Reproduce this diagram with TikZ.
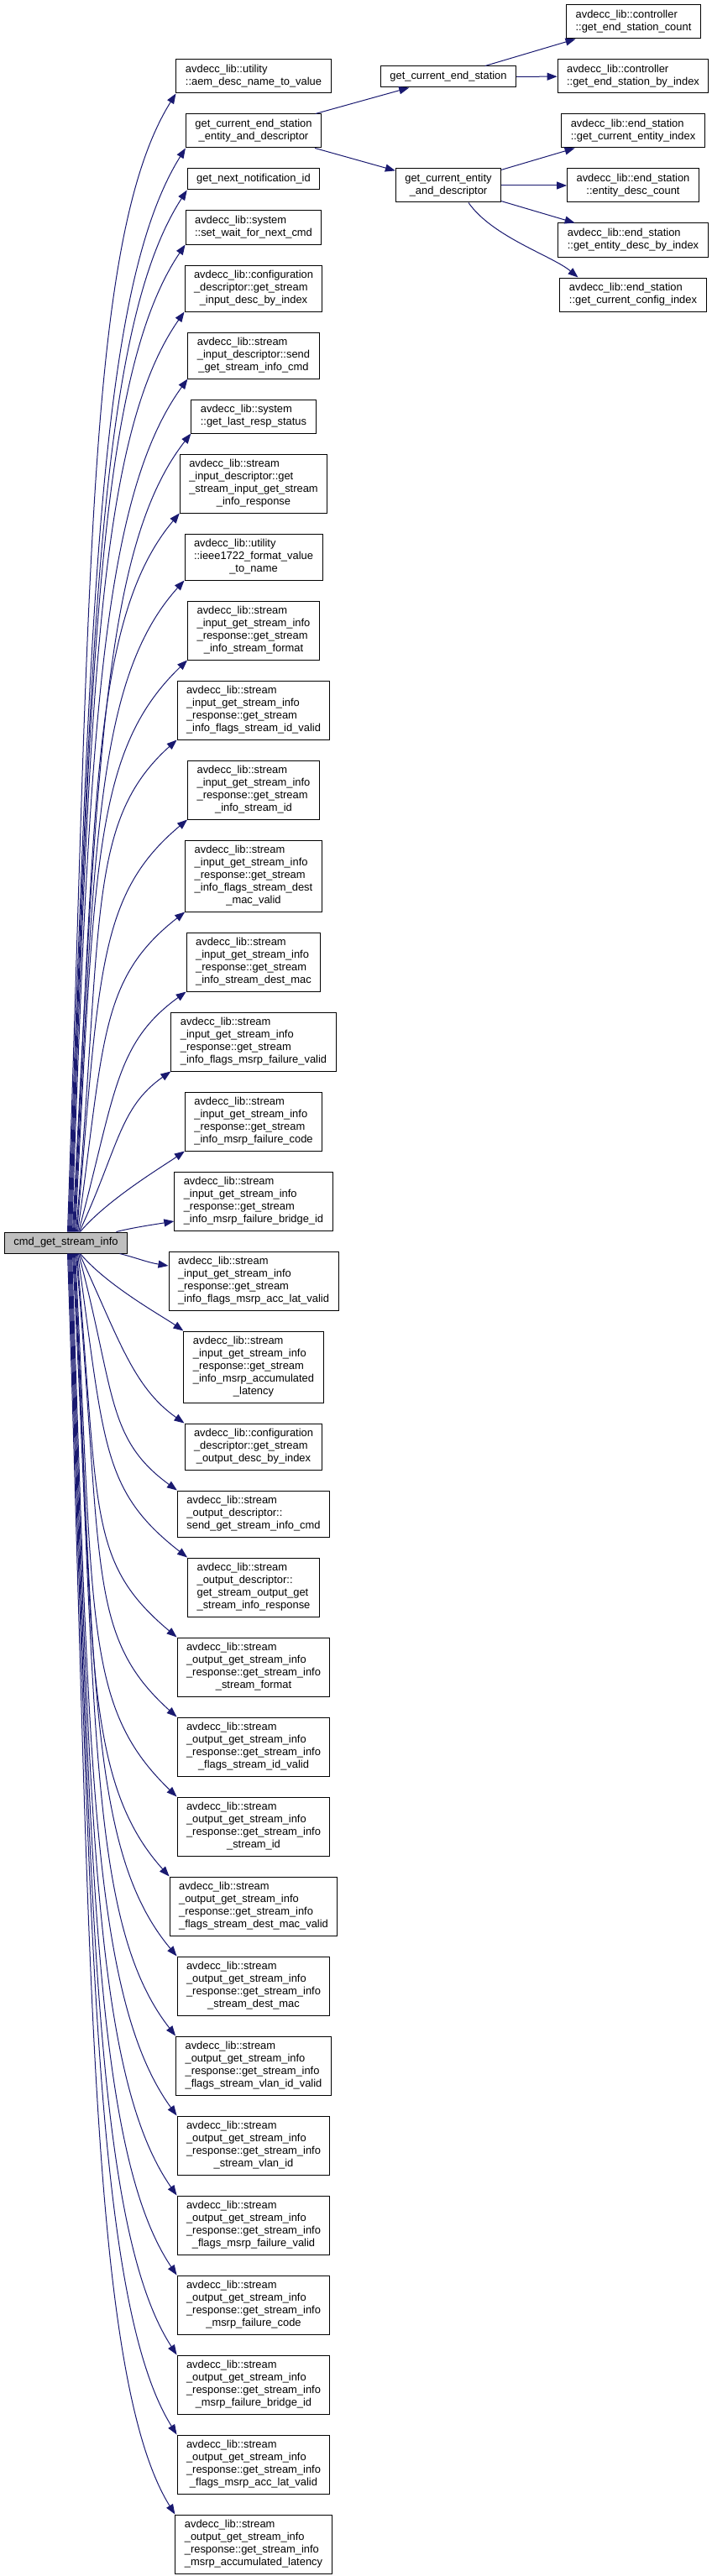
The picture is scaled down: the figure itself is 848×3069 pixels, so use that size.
\documentclass[tikz,border=0pt]{standalone}
\usepackage{fontspec}
\setmainfont{Liberation Sans}
\usetikzlibrary{calc,arrows.meta}

\definecolor{callblue}{HTML}{191970}
\definecolor{rootgray}{HTML}{BFBFBF}

% label: lines left-aligned, the last one centred
\newcommand{\lbl}[1]{\begin{tabular}{@{}l@{}}#1\end{tabular}}
\newcommand{\lastln}[1]{\multicolumn{1}{@{}c@{}}{#1}}

\tikzset{
  fn/.style={draw=black, fill=white, line width=1pt, inner xsep=11pt, inner ysep=5pt,
    font=\fontsize{12.9}{15}\selectfont},
  root/.style={fn, fill=rootgray},
  call/.style={draw=callblue, line width=1pt, -{Triangle[length=12pt,width=9pt]}, callblue}
}

\begin{document}
\begin{tikzpicture}[x=1pt, y=1pt]
  \useasboundingbox (0,0) rectangle (848,-3069);

  % caller
  \node[root] (cmd) at (78.5,-1480.5) {\lbl{cmd\_get\_stream\_info}};

  % callees
  \node[fn] (c1) at (302,-91) {\lbl{avdecc\_lib::utility\\\lastln{::aem\_desc\_name\_to\_value}}};
  \node[fn] (c2) at (302,-156) {\lbl{get\_current\_end\_station\\\lastln{\_entity\_and\_descriptor}}};
  \node[fn] (c3) at (302,-213.5) {\lbl{get\_next\_notification\_id}};
  \node[fn] (c4) at (302,-271) {\lbl{avdecc\_lib::system\\\lastln{::set\_wait\_for\_next\_cmd}}};
  \node[fn] (c5) at (302,-343.5) {\lbl{avdecc\_lib::configuration\\\_descriptor::get\_stream\\\lastln{\_input\_desc\_by\_index}}};
  \node[fn] (c6) at (302,-423.5) {\lbl{avdecc\_lib::stream\\\_input\_descriptor::send\\\lastln{\_get\_stream\_info\_cmd}}};
  \node[fn] (c7) at (302,-496) {\lbl{avdecc\_lib::system\\\lastln{::get\_last\_resp\_status}}};
  \node[fn] (c8) at (302,-576) {\lbl{avdecc\_lib::stream\\\_input\_descriptor::get\\\_stream\_input\_get\_stream\\\lastln{\_info\_response}}};
  \node[fn] (c9) at (302,-663.5) {\lbl{avdecc\_lib::utility\\::ieee1722\_format\_value\\\lastln{\_to\_name}}};
  \node[fn] (c10) at (302,-751) {\lbl{avdecc\_lib::stream\\\_input\_get\_stream\_info\\\_response::get\_stream\\\lastln{\_info\_stream\_format}}};
  \node[fn] (c11) at (302,-846) {\lbl{avdecc\_lib::stream\\\_input\_get\_stream\_info\\\_response::get\_stream\\\lastln{\_info\_flags\_stream\_id\_valid}}};
  \node[fn] (c12) at (302,-941) {\lbl{avdecc\_lib::stream\\\_input\_get\_stream\_info\\\_response::get\_stream\\\lastln{\_info\_stream\_id}}};
  \node[fn] (c13) at (302,-1043.5) {\lbl{avdecc\_lib::stream\\\_input\_get\_stream\_info\\\_response::get\_stream\\\_info\_flags\_stream\_dest\\\lastln{\_mac\_valid}}};
  \node[fn] (c14) at (302,-1146) {\lbl{avdecc\_lib::stream\\\_input\_get\_stream\_info\\\_response::get\_stream\\\lastln{\_info\_stream\_dest\_mac}}};
  \node[fn] (c15) at (302,-1241) {\lbl{avdecc\_lib::stream\\\_input\_get\_stream\_info\\\_response::get\_stream\\\lastln{\_info\_flags\_msrp\_failure\_valid}}};
  \node[fn] (c16) at (302,-1336) {\lbl{avdecc\_lib::stream\\\_input\_get\_stream\_info\\\_response::get\_stream\\\lastln{\_info\_msrp\_failure\_code}}};
  \node[fn] (c17) at (302,-1431) {\lbl{avdecc\_lib::stream\\\_input\_get\_stream\_info\\\_response::get\_stream\\\lastln{\_info\_msrp\_failure\_bridge\_id}}};
  \node[fn] (c18) at (302,-1526) {\lbl{avdecc\_lib::stream\\\_input\_get\_stream\_info\\\_response::get\_stream\\\lastln{\_info\_flags\_msrp\_acc\_lat\_valid}}};
  \node[fn] (c19) at (302,-1628.5) {\lbl{avdecc\_lib::stream\\\_input\_get\_stream\_info\\\_response::get\_stream\\\_info\_msrp\_accumulated\\\lastln{\_latency}}};
  \node[fn] (c20) at (302,-1723.5) {\lbl{avdecc\_lib::configuration\\\_descriptor::get\_stream\\\lastln{\_output\_desc\_by\_index}}};
  \node[fn] (c21) at (302,-1803.5) {\lbl{avdecc\_lib::stream\\\_output\_descriptor::\\\lastln{send\_get\_stream\_info\_cmd}}};
  \node[fn] (c22) at (302,-1891) {\lbl{avdecc\_lib::stream\\\_output\_descriptor::\\get\_stream\_output\_get\\\lastln{\_stream\_info\_response}}};
  \node[fn] (c23) at (302,-1986) {\lbl{avdecc\_lib::stream\\\_output\_get\_stream\_info\\\_response::get\_stream\_info\\\lastln{\_stream\_format}}};
  \node[fn] (c24) at (302,-2081) {\lbl{avdecc\_lib::stream\\\_output\_get\_stream\_info\\\_response::get\_stream\_info\\\lastln{\_flags\_stream\_id\_valid}}};
  \node[fn] (c25) at (302,-2176) {\lbl{avdecc\_lib::stream\\\_output\_get\_stream\_info\\\_response::get\_stream\_info\\\lastln{\_stream\_id}}};
  \node[fn] (c26) at (302,-2271) {\lbl{avdecc\_lib::stream\\\_output\_get\_stream\_info\\\_response::get\_stream\_info\\\lastln{\_flags\_stream\_dest\_mac\_valid}}};
  \node[fn] (c27) at (302,-2366) {\lbl{avdecc\_lib::stream\\\_output\_get\_stream\_info\\\_response::get\_stream\_info\\\lastln{\_stream\_dest\_mac}}};
  \node[fn] (c28) at (302,-2461) {\lbl{avdecc\_lib::stream\\\_output\_get\_stream\_info\\\_response::get\_stream\_info\\\lastln{\_flags\_stream\_vlan\_id\_valid}}};
  \node[fn] (c29) at (302,-2556) {\lbl{avdecc\_lib::stream\\\_output\_get\_stream\_info\\\_response::get\_stream\_info\\\lastln{\_stream\_vlan\_id}}};
  \node[fn] (c30) at (302,-2651) {\lbl{avdecc\_lib::stream\\\_output\_get\_stream\_info\\\_response::get\_stream\_info\\\lastln{\_flags\_msrp\_failure\_valid}}};
  \node[fn] (c31) at (302,-2746) {\lbl{avdecc\_lib::stream\\\_output\_get\_stream\_info\\\_response::get\_stream\_info\\\lastln{\_msrp\_failure\_code}}};
  \node[fn] (c32) at (302,-2841) {\lbl{avdecc\_lib::stream\\\_output\_get\_stream\_info\\\_response::get\_stream\_info\\\lastln{\_msrp\_failure\_bridge\_id}}};
  \node[fn] (c33) at (302,-2936) {\lbl{avdecc\_lib::stream\\\_output\_get\_stream\_info\\\_response::get\_stream\_info\\\lastln{\_flags\_msrp\_acc\_lat\_valid}}};
  \node[fn] (c34) at (302,-3031) {\lbl{avdecc\_lib::stream\\\_output\_get\_stream\_info\\\_response::get\_stream\_info\\\lastln{\_msrp\_accumulated\_latency}}};

  % second and third level
  \node[fn] (ces) at (534,-91.5) {\lbl{get\_current\_end\_station}};
  \node[fn] (ced) at (534,-221) {\lbl{get\_current\_entity\\\lastln{\_and\_descriptor}}};
  \node[fn] (escount) at (754.5,-26) {\lbl{avdecc\_lib::controller\\\lastln{::get\_end\_station\_count}}};
  \node[fn] (esbyidx) at (754,-91) {\lbl{avdecc\_lib::controller\\\lastln{::get\_end\_station\_by\_index}}};
  \node[fn] (entidx) at (754,-156) {\lbl{avdecc\_lib::end\_station\\\lastln{::get\_current\_entity\_index}}};
  \node[fn] (desccount) at (754,-221) {\lbl{avdecc\_lib::end\_station\\\lastln{::entity\_desc\_count}}};
  \node[fn] (descbyidx) at (754,-286) {\lbl{avdecc\_lib::end\_station\\\lastln{::get\_entity\_desc\_by\_index}}};
  \node[fn] (cfgidx) at (754,-351) {\lbl{avdecc\_lib::end\_station\\\lastln{::get\_current\_config\_index}}};

  % calls going up
  \foreach \tgt/\sx/\oa/\od/\ia/\id in {c1/2/88/780/238/200, c2/3/88/745/238/195,
      c3/4/88/715/237/190, c4/5/88/680/236/185, c5/6/88/635/235/180,
      c6/7/88/590/234/175, c7/8/87/555/232/170, c8/9/87/500/230/165,
      c9/10/87/455/228/160, c10/11/87/440/224/155, c11/12/85/375/222/145,
      c12/13/85/310/220/140, c13/14/82/230/218/130, c14/15/75/170/216/105,
      c15/16/65/110/215/75, c16/17/50/50/215/30}
    \draw[call] ($(cmd.north)+(\sx,0)$) .. controls +(\oa:\od) and ($(\tgt.south west)+(\ia:\id)$) .. (\tgt.south west);
  \draw[call] ($(cmd.north)+(60,0)$) .. controls +(20,5) and +(-25,-4) .. ($(c17.west)+(0,-24)$);

  % calls going down
  \draw[call] ($(cmd.south)+(64,0)$) .. controls +(20,-5) and +(-25,4) .. ($(c18.west)+(0,18)$);
  \foreach \tgt/\sx/\oa/\od/\ia/\id in {c19/17/-50/50/145/30, c20/16/-65/110/145/75,
      c21/15/-75/170/144/105, c22/14/-82/230/142/130, c23/13/-85/310/140/140,
      c24/12/-85/375/138/145, c25/11/-87/440/136/155, c26/10/-87/455/132/160,
      c27/9/-87/500/130/165, c28/8/-87/555/128/170, c29/7/-88/590/126/175,
      c30/6/-88/635/125/180, c31/5/-88/680/124/185, c32/4/-88/715/123/190,
      c33/3/-88/745/122/195, c34/2/-88/780/122/200}
    \draw[call] ($(cmd.south)+(\sx,0)$) .. controls +(\oa:\od) and ($(\tgt.north west)+(\ia:\id)$) .. (\tgt.north west);

  % deeper calls
  \draw[call] (c2) -- (ces);
  \draw[call] (c2) -- (ced);
  \draw[call] (ces) -- (escount);
  \draw[call] (ces) -- (esbyidx);
  \draw[call] (ced) -- (entidx);
  \draw[call] (ced) -- (desccount);
  \draw[call] (ced) -- (descbyidx);
  \draw[call] ($(ced.south)+(24,0)$) .. controls +(-55:50) and ($(cfgidx.north west)+(22,0)+(140:40)$) .. ($(cfgidx.north west)+(22,0)$);
\end{tikzpicture}
\end{document}
